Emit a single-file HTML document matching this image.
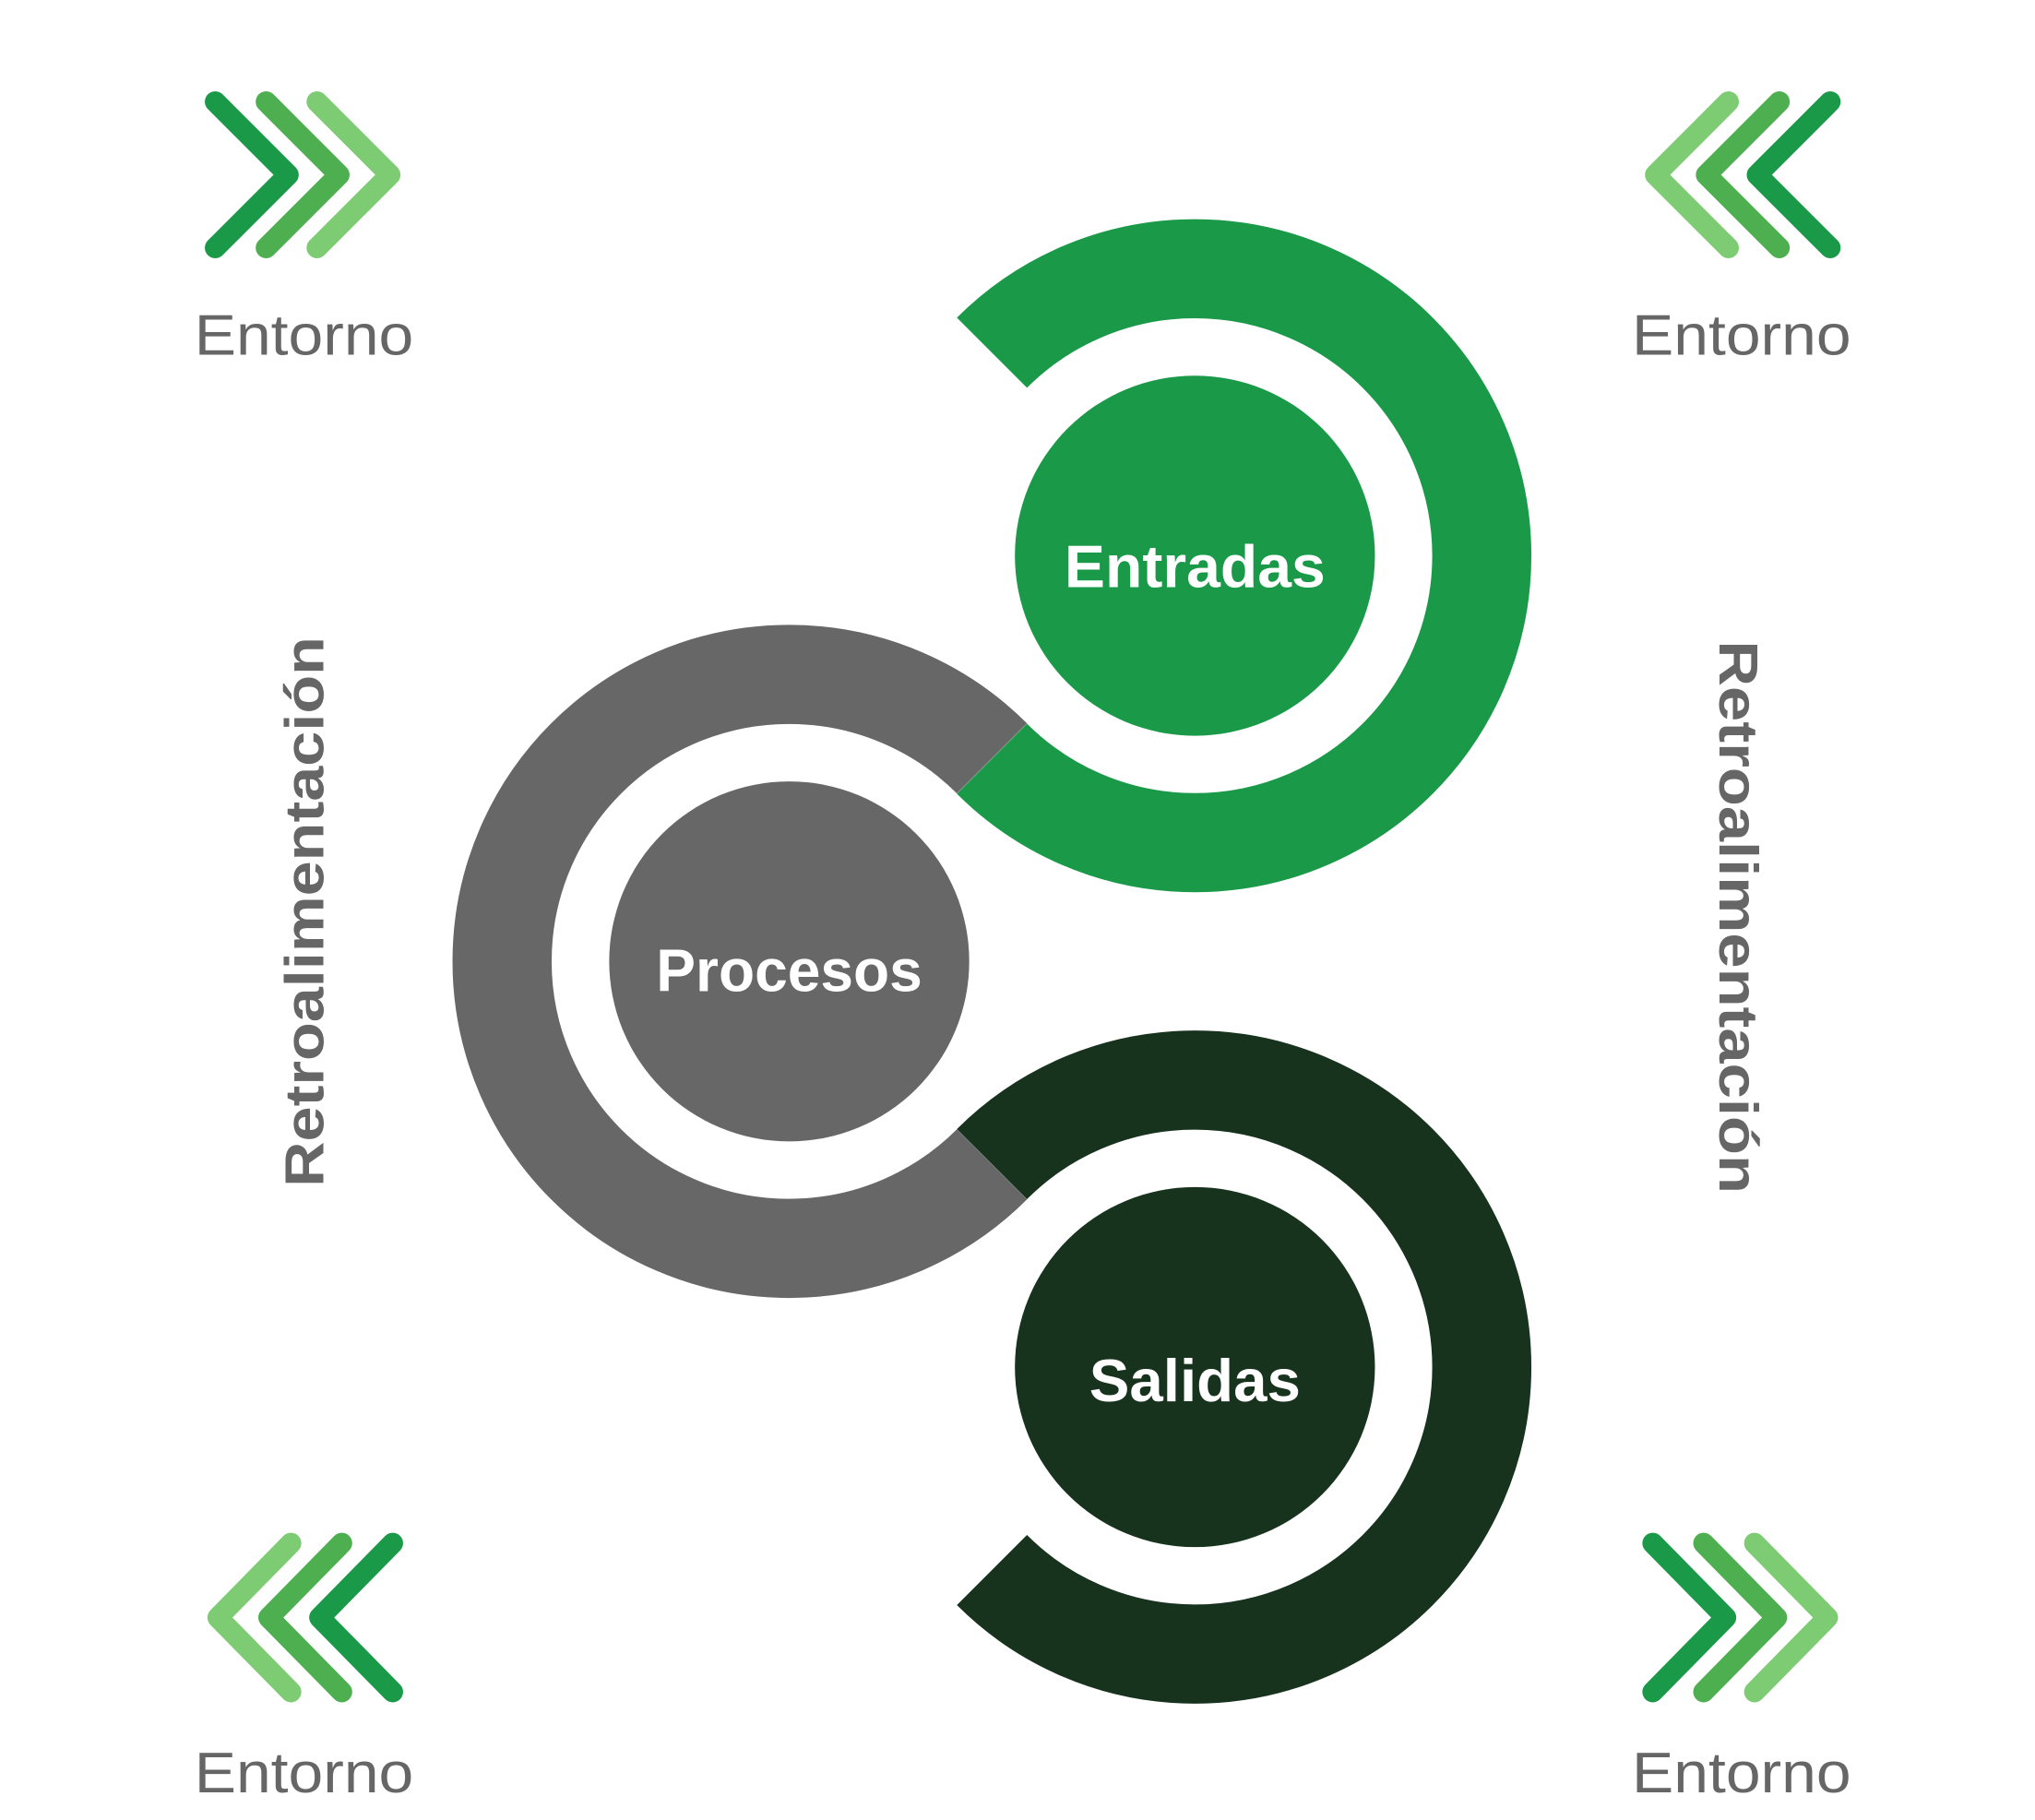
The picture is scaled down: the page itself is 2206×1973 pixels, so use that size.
<!DOCTYPE html>
<html><head><meta charset="utf-8"><style>
html,body{margin:0;padding:0;background:#fff;}
svg{display:block;}
</style></head><body>
<svg width="2206" height="1973" viewBox="0 0 1560 1395.2" preserveAspectRatio="none" xmlns="http://www.w3.org/2000/svg">
<rect width="1560" height="1396" fill="#fff"/>
<!-- rings -->
<path d="M760.4 581.4 A220 220 0 1 0 760.4 892.6" fill="none" stroke="#676767" stroke-width="76"/>
<path d="M760.4 270.4 A220 220 0 1 1 760.4 581.6" fill="none" stroke="#1a9a48" stroke-width="76"/>
<path d="M760.4 892.4 A220 220 0 1 1 760.4 1203.6" fill="none" stroke="#17331e" stroke-width="76"/>
<circle cx="916" cy="426" r="138" fill="#1a9a48"/>
<circle cx="605" cy="737" r="138" fill="#676767"/>
<circle cx="916" cy="1048" r="138" fill="#17331e"/>
<g font-family="Liberation Sans, sans-serif" font-weight="bold" fill="#fff" font-size="46" text-anchor="middle">
<text x="916" y="450" textLength="200" lengthAdjust="spacingAndGlyphs">Entradas</text>
<text x="605" y="760" textLength="204" lengthAdjust="spacingAndGlyphs">Procesos</text>
<text x="916" y="1074" textLength="162" lengthAdjust="spacingAndGlyphs">Salidas</text>
</g>
<!-- chevrons -->
<g fill="none" stroke-width="16" stroke-linecap="round" stroke-linejoin="round">
<polyline points="165,78 221,134 165,190" stroke="#1a9a48"/>
<polyline points="204,78 260,134 204,190" stroke="#4daf4f"/>
<polyline points="243,78 299,134 243,190" stroke="#7dcb72"/>

<polyline points="1325,78 1269,134 1325,190" stroke="#7dcb72"/>
<polyline points="1364,78 1308,134 1364,190" stroke="#4daf4f"/>
<polyline points="1403,78 1347,134 1403,190" stroke="#1a9a48"/>

<polyline points="223,1183 167,1240 223,1297" stroke="#7dcb72"/>
<polyline points="262,1183 206,1240 262,1297" stroke="#4daf4f"/>
<polyline points="301,1183 245,1240 301,1297" stroke="#1a9a48"/>

<polyline points="1267,1183 1323,1240 1267,1297" stroke="#1a9a48"/>
<polyline points="1306,1183 1362,1240 1306,1297" stroke="#4daf4f"/>
<polyline points="1345,1183 1401,1240 1345,1297" stroke="#7dcb72"/>
</g>
<g font-family="Liberation Sans, sans-serif" fill="#666" font-size="44">
<text x="149" y="272" textLength="168" lengthAdjust="spacingAndGlyphs">Entorno</text>
<text x="1251" y="272" textLength="168" lengthAdjust="spacingAndGlyphs">Entorno</text>
<text x="149" y="1374" textLength="168" lengthAdjust="spacingAndGlyphs">Entorno</text>
<text x="1251" y="1374" textLength="168" lengthAdjust="spacingAndGlyphs">Entorno</text>
</g>
<g font-family="Liberation Sans, sans-serif" font-weight="bold" fill="#666" font-size="42" text-anchor="middle">
<text transform="translate(248,699) rotate(-90)" textLength="422" lengthAdjust="spacingAndGlyphs">Retroalimentación</text>
<text transform="translate(1318,703) rotate(90)" textLength="424" lengthAdjust="spacingAndGlyphs">Retroalimentación</text>
</g>
</svg>
</body></html>
